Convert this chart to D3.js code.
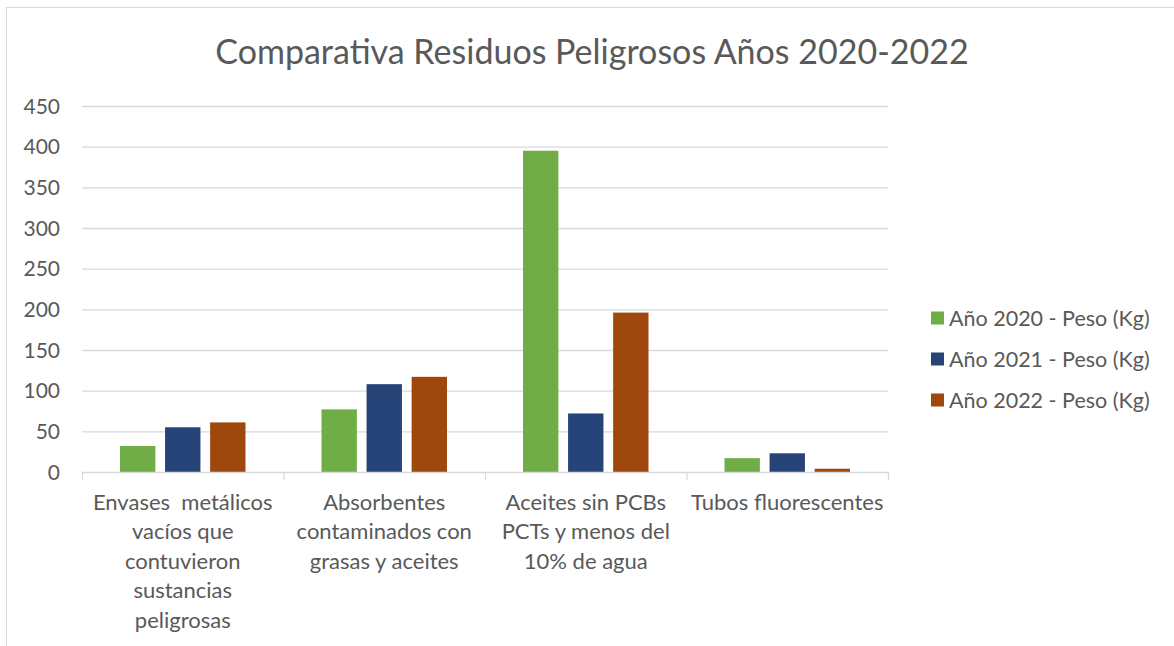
<!DOCTYPE html>
<html>
<head>
<meta charset="utf-8">
<script src="https://cdn.jsdelivr.net/npm/d3@7"></script>
<style>
  body { margin: 0; background: #fff; }
  svg { display: block; font-family: Lato, "Open Sans", sans-serif; }
</style>
</head>
<body>
<div id="chart"></div>
<script>
const categories = [
  "Envases  metálicos vacíos que contuvieron sustancias peligrosas",
  "Absorbentes contaminados con grasas y aceites",
  "Aceites sin PCBs PCTs y menos del 10% de agua",
  "Tubos fluorescentes"
];
const seriesNames = ["Año 2020 - Peso (Kg)", "Año 2021 - Peso (Kg)", "Año 2022 - Peso (Kg)"];
const values2020 = [32, 77, 395, 17];
const values2021 = [55, 108, 72, 23];
const values2022 = [61, 117, 196, 4];
const yTicks = [0, 50, 100, 150, 200, 250, 300, 350, 400, 450];
const colors = ["#70ad47", "#264478", "#9e480e"];

const width = 1174, height = 646;
const margin = { top: 106, right: 286, bottom: 174, left: 82 };

const svg = d3.select("#chart").append("svg")
  .attr("width", width).attr("height", height);

// outer border of the chart area
svg.append("rect")
  .attr("x", 6.5).attr("y", 7.5)
  .attr("width", width + 10).attr("height", height + 10)
  .attr("fill", "none").attr("stroke", "#d9d9d9");

svg.append("text")
  .attr("x", 592).attr("y", 64)
  .attr("text-anchor", "middle")
  .attr("font-size", 34)
  .attr("fill", "#595959")
  .text("Comparativa Residuos Peligrosos Años 2020-2022");

const x0 = d3.scaleBand().domain(categories)
  .range([margin.left, width - margin.right]);
const x1 = d3.scaleBand().domain(seriesNames)
  .range([38, x0.bandwidth() - 38]).paddingInner(0.215);
const y = d3.scaleLinear().domain([0, 450])
  .range([height - margin.bottom, margin.top]);

// gridlines
svg.append("g").selectAll("line").data(yTicks.filter(d => d > 0)).join("line")
  .attr("x1", margin.left).attr("x2", width - margin.right)
  .attr("y1", d => y(d) + 0.5).attr("y2", d => y(d) + 0.5)
  .attr("stroke", "#d9d9d9").attr("stroke-width", 1.3);

// y labels
svg.append("g").selectAll("text").data(yTicks).join("text")
  .attr("x", 60).attr("y", d => y(d))
  .attr("dy", "0.36em")
  .attr("text-anchor", "end")
  .attr("font-size", 21)
  .attr("fill", "#595959")
  .text(d => d);

// bars
const seriesValues = [values2020, values2021, values2022];
const bars = [];
categories.forEach((c, i) => {
  seriesNames.forEach((s, j) => bars.push({ c, s, v: seriesValues[j][i], color: colors[j] }));
});
svg.append("g").selectAll("rect").data(bars).join("rect")
  .attr("x", d => x0(d.c) + x1(d.s))
  .attr("y", d => y(d.v))
  .attr("width", x1.bandwidth())
  .attr("height", d => y(0) - y(d.v))
  .attr("fill", d => d.color);

// x axis
const xAxis = svg.append("g");
xAxis.append("line")
  .attr("x1", margin.left).attr("x2", width - margin.right)
  .attr("y1", y(0) + 0.5).attr("y2", y(0) + 0.5)
  .attr("stroke", "#d9d9d9").attr("stroke-width", 1.3);
const edges = categories.map(c => x0(c)).concat([x0.range()[1]]);
xAxis.selectAll(".tick").data(edges).join("line")
  .attr("x1", d => d + 0.5).attr("x2", d => d + 0.5)
  .attr("y1", y(0)).attr("y2", y(0) + 8)
  .attr("stroke", "#d9d9d9").attr("stroke-width", 1.3);

// wrapped category labels
function wrap(textSel, maxWidth) {
  textSel.each(function(d) {
    const text = d3.select(this);
    const words = d.split(" ");
    let line = [];
    let tspan = text.append("tspan").attr("x", text.attr("x")).attr("dy", 0);
    words.forEach(w => {
      line.push(w);
      tspan.text(line.join(" ").trim());
      if (tspan.node().getComputedTextLength() > maxWidth && line.length > 1) {
        line.pop();
        tspan.text(line.join(" ").trim());
        line = [w];
        tspan = text.append("tspan").attr("x", text.attr("x"))
          .attr("dy", "1.34em").text(w);
      }
    });
  });
}
svg.append("g").selectAll("text").data(categories).join("text")
  .attr("x", d => x0(d) + x0.bandwidth() / 2)
  .attr("y", 510)
  .attr("text-anchor", "middle")
  .attr("font-size", 22)
  .attr("fill", "#595959")
  .style("white-space", "pre")
  .call(wrap, 195);

// legend
const legend = svg.append("g").selectAll("g").data(seriesNames).join("g")
  .attr("transform", (d, i) => `translate(931, ${318 + i * 41})`);
legend.append("rect")
  .attr("x", 0).attr("y", -6.5).attr("width", 13).attr("height", 13)
  .attr("fill", (d, i) => colors[i]);
legend.append("text")
  .attr("x", 18).attr("dy", "0.36em")
  .attr("font-size", 21.5)
  .attr("fill", "#595959")
  .text(d => d);
</script>
</body>
</html>
